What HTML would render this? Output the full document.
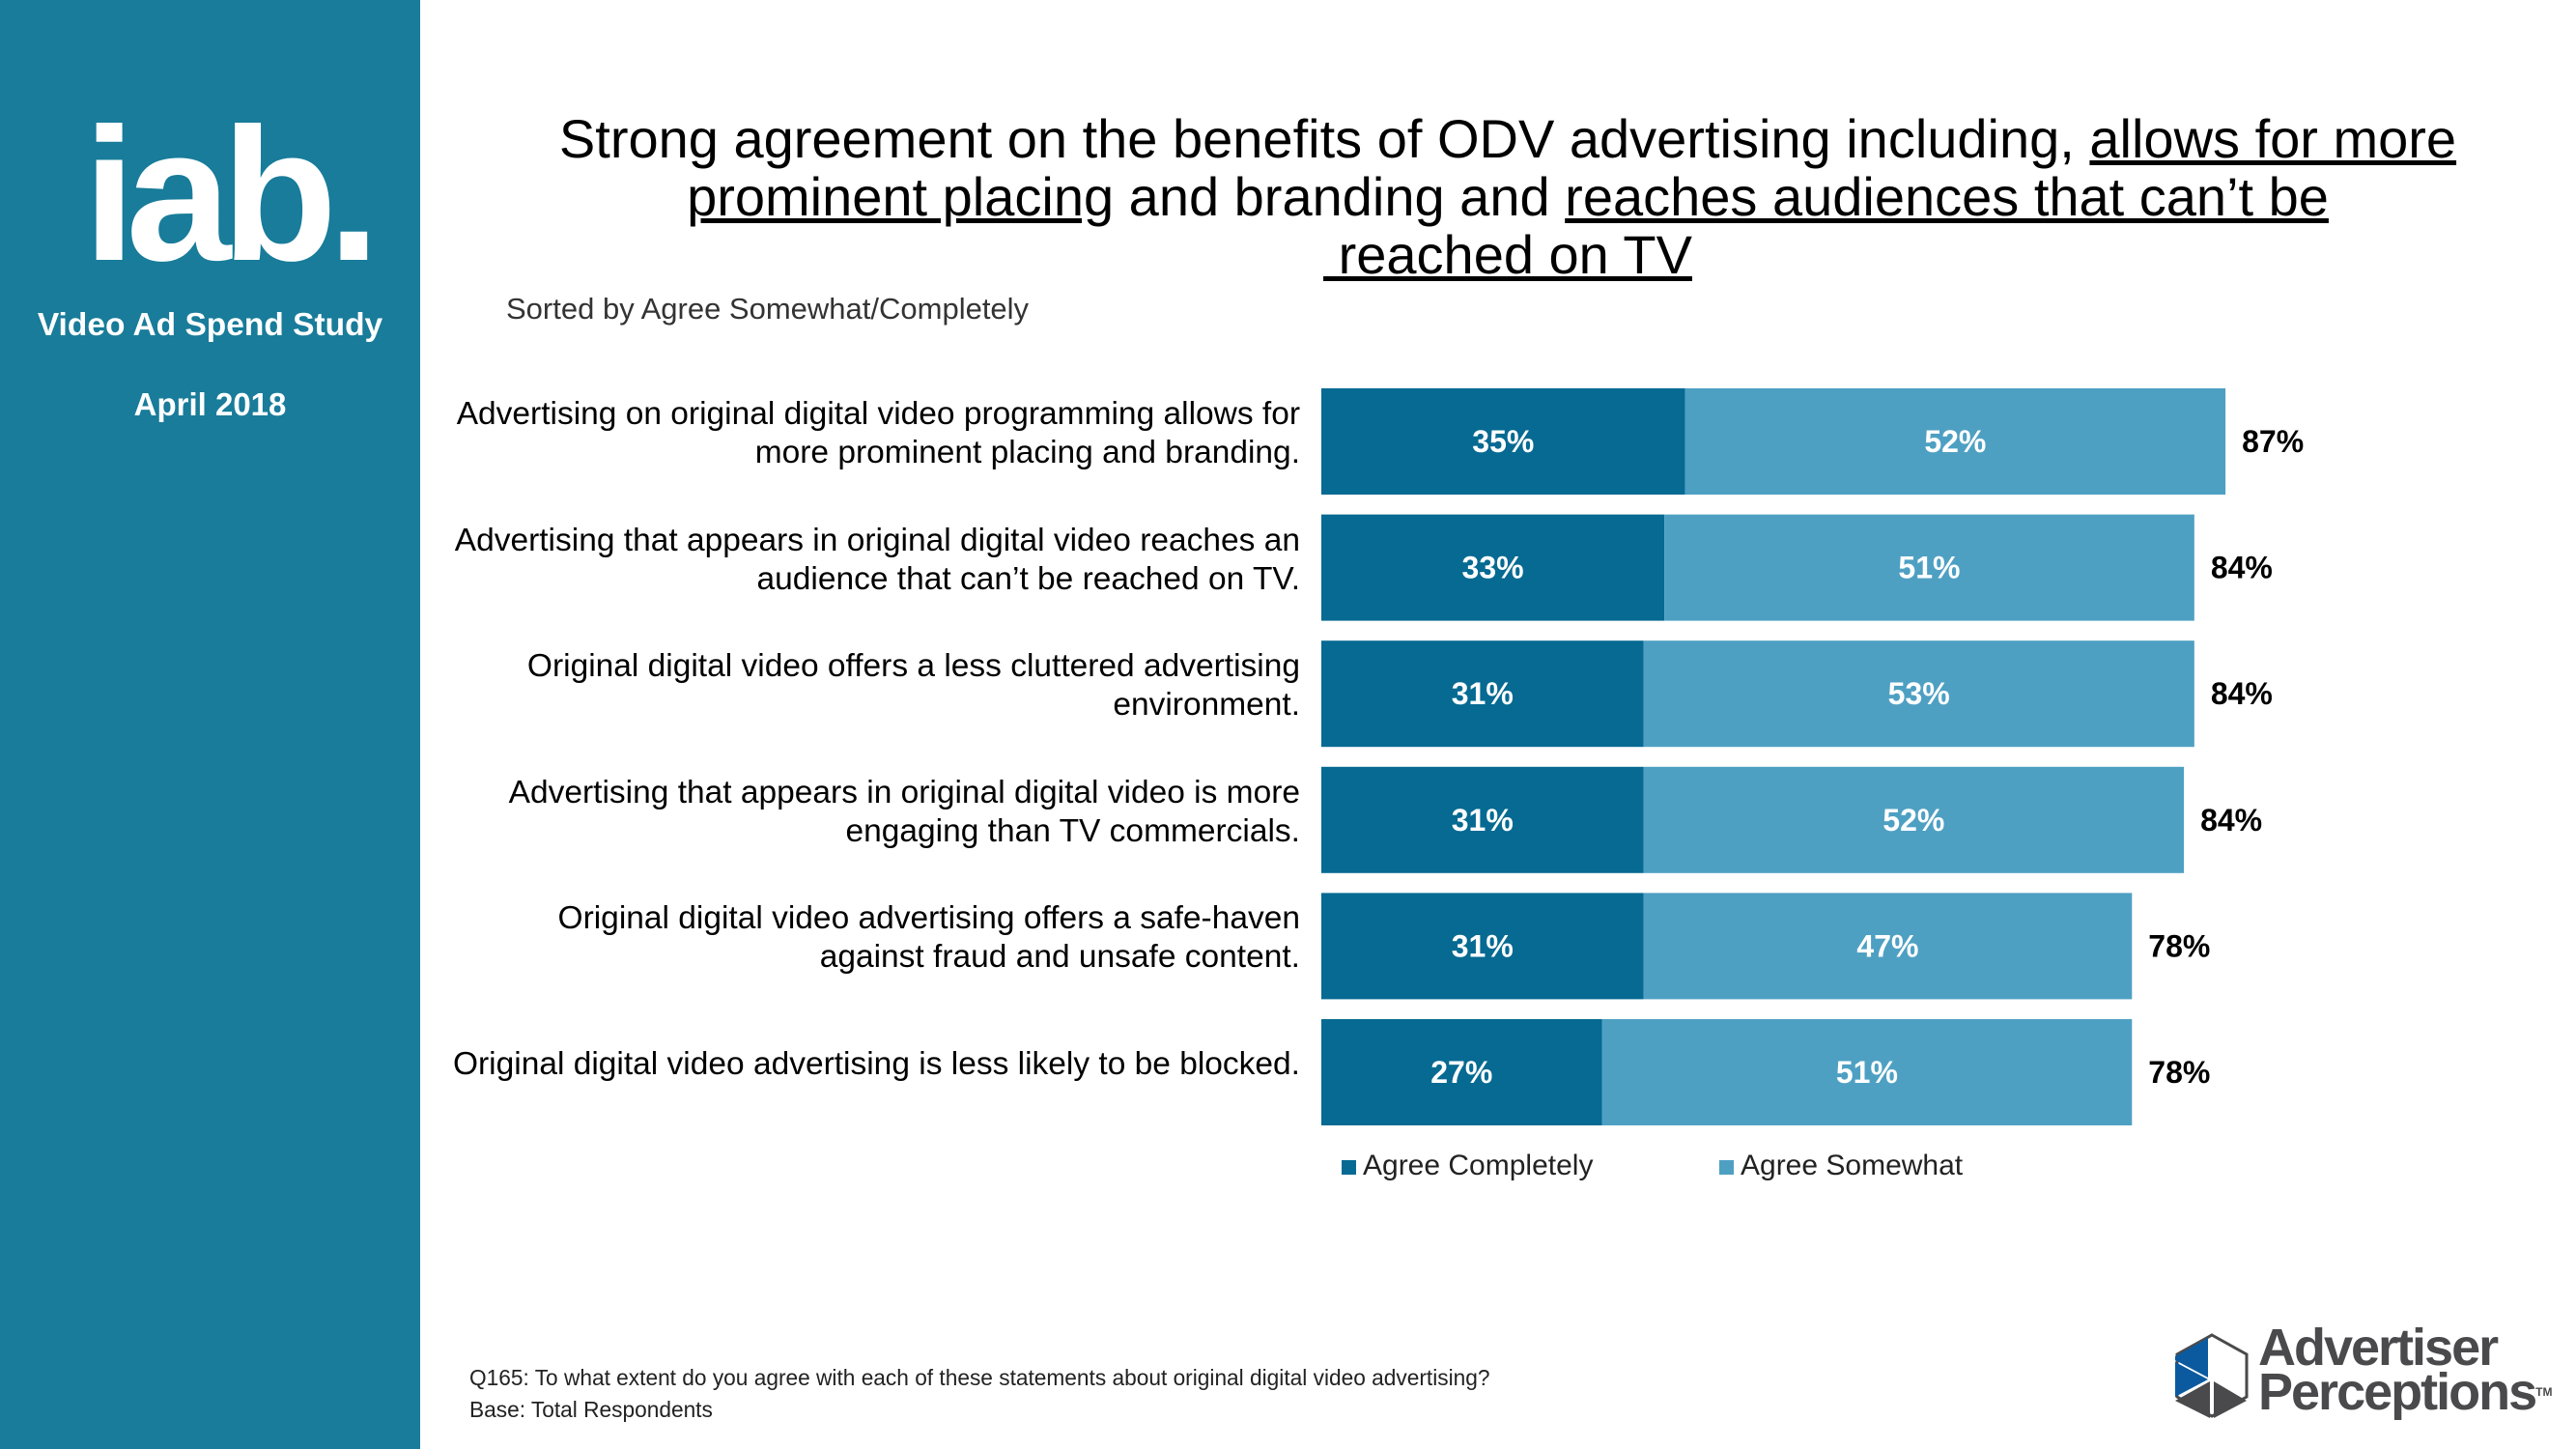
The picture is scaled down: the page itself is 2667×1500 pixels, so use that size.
<!DOCTYPE html>
<html><head><meta charset="utf-8">
<style>
body{margin:0;width:2667px;height:1500px;position:relative;background:#fff;font-family:"Liberation Sans",Arial,sans-serif;overflow:hidden}
.abs{position:absolute}
#side{left:0;top:0;width:435px;height:1500px;background:#187c9a}
.lbl{position:absolute;right:1321px;text-align:right;font-size:33.5px;line-height:40px;color:#000;width:950px}
</style></head><body>
<div id="side" class="abs">
  <div class="abs" style="left:86px;top:82px;font-size:196px;font-weight:bold;color:#fff;letter-spacing:-10px;line-height:240px">iab.</div>
  <div class="abs" style="left:0;width:435px;top:318px;text-align:center;color:#fff;font-weight:bold;font-size:33.5px">Video Ad Spend Study</div>
  <div class="abs" style="left:0;width:435px;top:400px;text-align:center;color:#fff;font-weight:bold;font-size:33px">April 2018</div>
</div>
<div class="abs" style="left:500px;width:2122px;top:114px;text-align:center;font-size:56px;line-height:60px;color:#000">Strong agreement on the benefits of ODV advertising including, <u>allows for more</u><br><u>prominent placing</u> and branding and <u>reaches audiences that can’t be</u><br><u>&nbsp;reached on TV</u></div>
<div class="abs" style="left:524px;top:302px;font-size:31px;color:#333">Sorted by Agree Somewhat/Completely</div>
<svg class="abs" style="left:0;top:0" width="2667" height="1500" id="chart"></svg>
<div id="labels"></div>
<div class="abs" style="left:1389px;top:1190px;font-size:30px;color:#222"><span style="display:inline-block;width:15px;height:15px;background:#066a92;margin-right:7px"></span>Agree Completely</div>
<div class="abs" style="left:1780px;top:1190px;font-size:30px;color:#222"><span style="display:inline-block;width:15px;height:15px;background:#4ea0c3;margin-right:7px"></span>Agree Somewhat</div>
<div class="abs" style="left:486px;top:1410px;font-size:22.7px;line-height:33px;color:#222">Q165: To what extent do you agree with each of these statements about original digital video advertising?<br>Base: Total Respondents</div>
<div class="abs" style="left:2250px;top:1378px;width:417px;height:100px">
<svg width="80" height="90" style="position:absolute;left:0;top:2px">
<polygon points="40,2 76,22 76,66 40,86 4,66 4,22" fill="none" stroke="#4a4a4c" stroke-width="3"/>
<polygon points="36,5 36,46 2,28 2,24" fill="#0b5aa0"/>
<polygon points="2,30 36,48 2,66" fill="#0b5aa0"/>
<polygon points="2,70 38,50 38,88" fill="#4a4a4c"/>
<polygon points="42,50 76,70 42,88" fill="#4a4a4c"/>
</svg>
<div style="position:absolute;left:88px;top:-6px;font-size:54px;font-weight:bold;color:#4a4a4c;line-height:46px;letter-spacing:-2px">Advertiser<br>Perceptions<span style="font-size:12px;vertical-align:top;letter-spacing:0">TM</span></div>
</div>
<script>
const categories=["Advertising on original digital video programming allows for<br>more prominent placing and branding.","Advertising that appears in original digital video reaches an<br>audience that can’t be reached on TV.","Original digital video offers a less cluttered advertising<br>environment.","Advertising that appears in original digital video is more<br>engaging than TV commercials.","Original digital video advertising offers a safe-haven<br>against fraud and unsafe content.","Original digital video advertising is less likely to be blocked."];
const agreeCompletely=[35,33,31,31,31,27];
const agreeSomewhat=[52,51,53,52,47,51];
const totals=[87,84,84,84,78,78];
const X0=1368,PX=10.76,Y0=402,PITCH=130.6,H=110;
const xs=v=>X0+v*PX, ys=i=>Y0+i*PITCH;
const svg=document.getElementById('chart');const NS='http://www.w3.org/2000/svg';
function mk(t,a){const e=document.createElementNS(NS,t);for(const k in a)e.setAttribute(k,a[k]);svg.appendChild(e);return e;}
categories.forEach((c,i)=>{
 const y=ys(i),a=agreeCompletely[i],b=agreeSomewhat[i];
 const r1=mk('rect',{x:X0,y:y,width:xs(a)-X0,height:H,fill:'#066a92'});
 
 
 const r2=mk('rect',{x:xs(a),y:y,width:xs(a+b)-xs(a),height:H,fill:'#4ea0c3'});
 
 
 const t1=mk('text',{x:(X0+xs(a))/2,y:y+H/2+11,'text-anchor':'middle','font-size':32,'font-weight':'bold',fill:'#fff','font-family':'Liberation Sans'});t1.textContent=a+'%';
 
 
 const t2=mk('text',{x:(xs(a)+xs(a+b))/2,y:y+H/2+11,'text-anchor':'middle','font-size':32,'font-weight':'bold',fill:'#fff','font-family':'Liberation Sans'});t2.textContent=b+'%';
 
 
 const t3=mk('text',{x:xs(a+b)+17,y:y+H/2+11,'font-size':32,'font-weight':'bold',fill:'#000','font-family':'Liberation Sans'});t3.textContent=totals[i]+'%';
 
 
 const d=document.createElement('div');d.className='lbl';d.innerHTML=c;
 const lines=c.split('<br>').length;
 d.style.top=(y+H/2-lines*20-8)+'px';
 
 
 document.getElementById('labels').appendChild(d);
});
</script>
</body></html>
